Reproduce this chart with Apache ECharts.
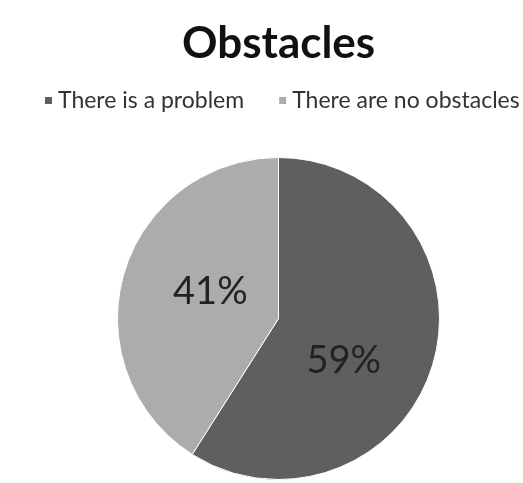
<!DOCTYPE html>
<html>
<head>
<meta charset="utf-8">
<script src="https://cdn.jsdelivr.net/npm/echarts@6/dist/echarts.min.js"></script>
<style>
html,body{margin:0;padding:0;background:#fff;}
#chart{width:523px;height:483px;}
</style>
</head>
<body>
<div id="chart"></div>
<script>
var titleText = 'Obstacles';
var categories = ['There is a problem', 'There are no obstacles'];
var values = [59, 41];
var colors = ['#5f5f5f', '#acacac'];

var chart = echarts.init(document.getElementById('chart'), null, {renderer: 'canvas'});
var data = categories.map(function (c, i) {
  return {name: c, value: values[i], itemStyle: {color: colors[i]}};
});
chart.setOption({
  animation: false,
  backgroundColor: '#fff',
  title: {
    text: titleText,
    left: 177,
    top: 17,
    textStyle: {fontFamily: 'Lato', fontWeight: 'bold', fontSize: 44, color: '#111'}
  },
  legend: {
    data: categories,
    top: 89,
    left: 43,
    padding: 0,
    icon: 'rect',
    itemWidth: 9,
    itemHeight: 9,
    itemGap: 33,
    textStyle: {fontFamily: 'Lato', fontSize: 23, color: '#333'}
  },
  series: [{
    type: 'pie',
    center: [278.5, 318.5],
    radius: [0, 161],
    startAngle: 90,
    clockwise: true,
    data: data,
    itemStyle: {borderColor: '#fff', borderWidth: 1},
    label: {
      show: true,
      position: 'inside',
      formatter: function (p) { return p.value + '%'; },
      fontFamily: 'Lato',
      fontSize: 38,
      color: '#222'
    },
    labelLine: {show: false},
    labelLayout: function (p) {
      if (p.dataIndex === 0) return {dx: -15, dy: 19};
      return {dx: 12, dy: -3};
    }
  }]
});
</script>
</body>
</html>
